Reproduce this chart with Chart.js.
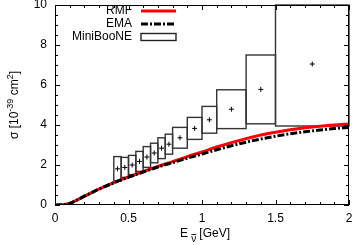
<!DOCTYPE html>
<html lang="en">
<head>
    <meta charset="UTF-8">
    <title>Sección eficaz antineutrino</title>
    <style>
        html, body { margin: 0; padding: 0; background: #fff; }
        #grafico { display: block; }
    </style>
</head>
<body>
<canvas id="grafico" width="354" height="245"></canvas>

<script src="https://cdn.jsdelivr.net/npm/chart.js"></script>
<script>
    // curvas teoricas (E en GeV, sigma en 1e-39 cm^2)
    const energia = [0, 0.05, 0.1, 0.15, 0.2, 0.25, 0.3, 0.4, 0.5, 0.6, 0.7, 0.8, 0.9, 1.0, 1.1, 1.2, 1.3, 1.4, 1.5, 1.6, 1.7, 1.8, 1.9, 2.0];
    const rmf = [0, 0.01, 0.08, 0.25, 0.44, 0.62, 0.8, 1.12, 1.4, 1.67, 1.93, 2.17, 2.42, 2.65, 2.9, 3.12, 3.32, 3.5, 3.64, 3.76, 3.86, 3.94, 4.0, 4.05];
    const ema = [0, 0.01, 0.08, 0.25, 0.44, 0.62, 0.8, 1.11, 1.39, 1.65, 1.9, 2.12, 2.34, 2.55, 2.76, 2.96, 3.14, 3.3, 3.44, 3.56, 3.66, 3.75, 3.82, 3.88];

    // datos MiniBooNE
    const binMin = [0.4, 0.45, 0.5, 0.55, 0.6, 0.65, 0.7, 0.75, 0.8, 0.9, 1.0, 1.1, 1.3, 1.5];
    const binMax = [0.45, 0.5, 0.55, 0.6, 0.65, 0.7, 0.75, 0.8, 0.9, 1.0, 1.1, 1.3, 1.5, 2.0];
    const sigma = [1.81, 1.88, 2.0, 2.18, 2.4, 2.6, 2.84, 3.04, 3.36, 3.83, 4.26, 4.79, 5.78, 7.05];
    const error = [0.61, 0.5, 0.48, 0.5, 0.52, 0.49, 0.52, 0.5, 0.52, 0.55, 0.67, 0.97, 1.72, 3.1];

    const xTicks = [0, 0.5, 1, 1.5, 2];
    const yTicks = [0, 2, 4, 6, 8, 10];

    const fuente = '"Liberation Sans", Arial, Helvetica, sans-serif';

    // cajas de error, debajo de las curvas
    const cajas = {
        id: 'cajas',
        beforeDatasetsDraw(chart) {
            const ctx = chart.ctx;
            const x = chart.scales.x, y = chart.scales.y;
            const area = chart.chartArea;
            ctx.save();
            ctx.strokeStyle = '#333';
            ctx.lineWidth = 1.4;
            for (let i = 0; i < sigma.length; i++) {
                const x0 = x.getPixelForValue(binMin[i]);
                const x1 = x.getPixelForValue(binMax[i]);
                let y0 = y.getPixelForValue(sigma[i] + error[i]);
                const y1 = y.getPixelForValue(sigma[i] - error[i]);
                if (y0 < area.top) y0 = area.top;
                ctx.strokeRect(x0, y0, x1 - x0, y1 - y0);
            }
            ctx.restore();
        }
    };

    // marco, ticks hacia dentro, leyenda y titulos
    const marco = {
        id: 'marco',
        afterDraw(chart) {
            const ctx = chart.ctx;
            const x = chart.scales.x, y = chart.scales.y;
            const a = chart.chartArea;
            ctx.save();
            ctx.strokeStyle = '#000';
            ctx.lineWidth = 1;
            ctx.strokeRect(a.left + 0.5, a.top + 0.5, a.right - a.left - 1, a.bottom - a.top - 1);

            ctx.beginPath();
            for (let v = 0; v <= 20; v++) {
                const px = Math.round(x.getPixelForValue(v / 10)) + 0.5;
                const len = v % 5 === 0 ? 5 : 3;
                ctx.moveTo(px, a.bottom); ctx.lineTo(px, a.bottom - len);
                ctx.moveTo(px, a.top); ctx.lineTo(px, a.top + len);
            }
            for (let v = 0; v <= 20; v++) {
                const py = Math.round(y.getPixelForValue(v / 2)) + 0.5;
                const len = v % 4 === 0 ? 5 : 3;
                ctx.moveTo(a.left, py); ctx.lineTo(a.left + len, py);
                ctx.moveTo(a.right, py); ctx.lineTo(a.right - len, py);
            }
            ctx.stroke();

            // leyenda
            ctx.font = '12px ' + fuente;
            ctx.fillStyle = '#000';
            ctx.textAlign = 'right';
            ctx.textBaseline = 'middle';
            ctx.fillText('RMF', 132, 11);
            ctx.fillText('EMA', 132, 24);
            ctx.fillText('MiniBooNE', 132, 37);

            ctx.lineWidth = 3;
            ctx.strokeStyle = '#ff0000';
            ctx.beginPath(); ctx.moveTo(141, 11); ctx.lineTo(176, 11); ctx.stroke();
            ctx.strokeStyle = '#000';
            ctx.setLineDash([7, 2, 2, 2]);
            ctx.beginPath(); ctx.moveTo(141, 24); ctx.lineTo(176, 24); ctx.stroke();
            ctx.setLineDash([]);
            ctx.lineWidth = 1.4;
            ctx.strokeStyle = '#222';
            ctx.strokeRect(141, 33.5, 35, 7);

            // titulo eje y
            ctx.save();
            ctx.translate(14, (a.top + a.bottom) / 2);
            ctx.rotate(-Math.PI / 2);
            const partes = [['σ [10', 12, 0], ['-39', 9, -5], [' cm', 12, 0], ['2', 9, -5], [']', 12, 0]];
            let total = 0;
            partes.forEach(p => { ctx.font = p[1] + 'px ' + fuente; total += ctx.measureText(p[0]).width; });
            let cx = -total / 2;
            ctx.textAlign = 'left';
            ctx.textBaseline = 'alphabetic';
            partes.forEach(p => {
                ctx.font = p[1] + 'px ' + fuente;
                ctx.fillText(p[0], cx, 4 + p[2]);
                cx += ctx.measureText(p[0]).width;
            });
            ctx.restore();

            // titulo eje x
            ctx.textAlign = 'left';
            ctx.textBaseline = 'alphabetic';
            ctx.font = '12px ' + fuente;
            let tx = 180;
            ctx.fillText('E', tx, 237);
            tx += ctx.measureText('E ').width;
            ctx.font = '10px ' + fuente;
            const nuW = ctx.measureText('ν').width;
            ctx.fillText('ν', tx, 242);
            ctx.lineWidth = 1;
            ctx.beginPath(); ctx.moveTo(tx, 234.5); ctx.lineTo(tx + nuW, 234.5); ctx.stroke();
            tx += nuW + 3;
            ctx.font = '12px ' + fuente;
            ctx.fillText('[GeV]', tx, 237);
            ctx.restore();
        }
    };

    const lineaRMF = energia.map((e, i) => ({ x: e, y: rmf[i] }));
    const lineaEMA = energia.map((e, i) => ({ x: e, y: ema[i] }));
    const puntos = sigma.map((s, i) => ({ x: (binMin[i] + binMax[i]) / 2, y: s }));

    const ctx = document.getElementById('grafico').getContext('2d');
    new Chart(ctx, {
        type: 'scatter',
        data: {
            datasets: [
                {
                    label: 'MiniBooNE',
                    data: puntos,
                    pointStyle: 'cross',
                    pointRadius: 2.5,
                    borderColor: '#000',
                    borderWidth: 1,
                    order: 0
                },
                {
                    label: 'EMA',
                    data: lineaEMA,
                    showLine: true,
                    borderColor: '#000',
                    borderWidth: 3,
                    borderDash: [7, 2, 2, 2],
                    pointRadius: 0,
                    cubicInterpolationMode: 'monotone',
                    order: 1
                },
                {
                    label: 'RMF',
                    data: lineaRMF,
                    showLine: true,
                    borderColor: '#ff0000',
                    borderWidth: 3,
                    pointRadius: 0,
                    cubicInterpolationMode: 'monotone',
                    order: 2
                }
            ]
        },
        options: {
            responsive: false,
            animation: false,
            layout: { padding: { top: 4, right: 5, left: 0, bottom: 0 } },
            plugins: { legend: { display: false }, tooltip: { enabled: false } },
            scales: {
                x: {
                    type: 'linear',
                    min: 0, max: 2,
                    afterBuildTicks: s => { s.ticks = xTicks.map(v => ({ value: v })); },
                    ticks: { color: '#000', font: { size: 12, family: fuente }, padding: 6, maxRotation: 0,
                             callback: v => String(v) },
                    grid: { display: false, drawTicks: false },
                    border: { display: false },
                    afterFit: s => { s.height = 40; s.paddingLeft = 0; s.paddingRight = 0; }
                },
                y: {
                    min: 0, max: 10,
                    afterBuildTicks: s => { s.ticks = yTicks.map(v => ({ value: v })); },
                    ticks: { color: '#000', font: { size: 12, family: fuente }, padding: 8,
                             callback: v => String(v) },
                    grid: { display: false, drawTicks: false },
                    border: { display: false },
                    afterFit: s => { s.width = 55; s.paddingTop = 0; s.paddingBottom = 0; }
                }
            }
        },
        plugins: [cajas, marco]
    });
</script>
</body>
</html>
